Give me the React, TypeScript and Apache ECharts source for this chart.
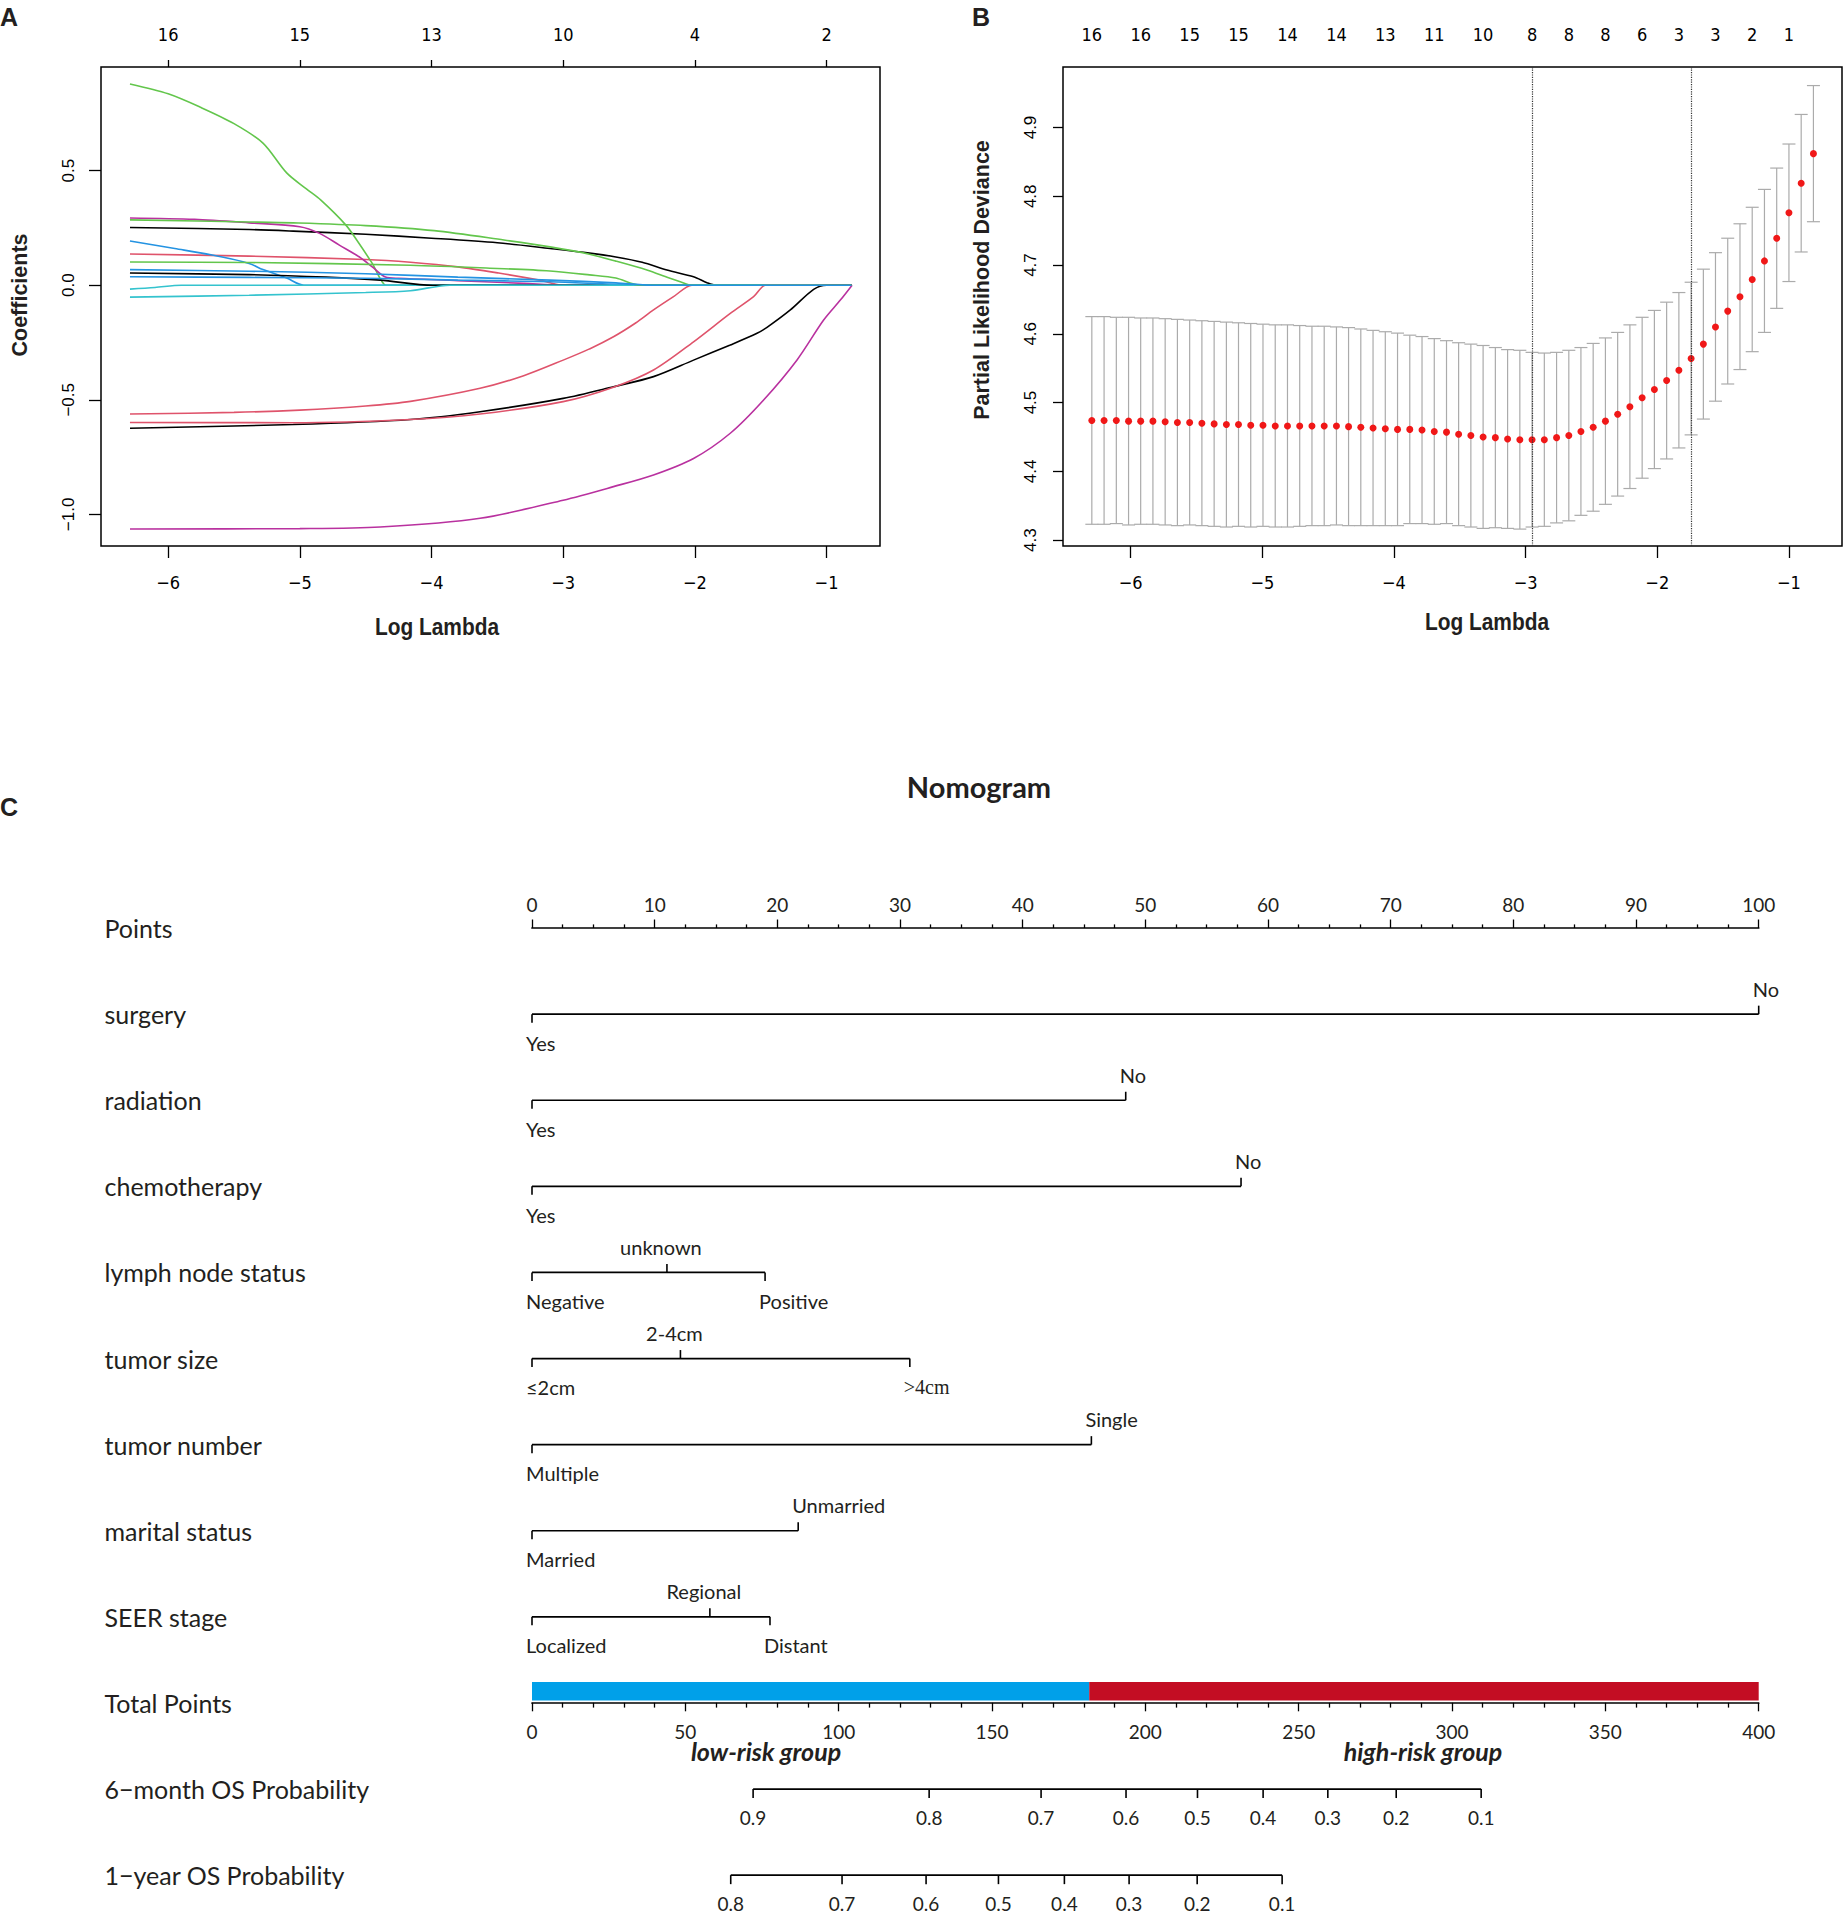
import React, { useEffect, useRef } from "react";
import * as echarts from "echarts";

// ---------------- Panel A : LASSO coefficient paths ----------------
const logLambdaTicks = [-6, -5, -4, -3, -2, -1];
const pathDfLabels = ["16", "15", "13", "10", "4", "2"];
const coefTicks = [-1, -0.5, 0, 0.5];

const pathBlack1 = [[-6.29,0.252],[-5.385,0.243],[-5.05,0.236],[-4.5,0.222],[-4.0,0.205],[-3.5,0.185],[-3.1,0.160],[-2.8,0.14],[-2.6,0.123],[-2.4,0.1],[-2.212,0.066],[-2.01,0.037],[-1.908,0.011],[-1.84,0],[-1.82,0],[-0.81,0]];
const pathRed1 = [[-6.29,0.136],[-5.385,0.127],[-4.5,0.112],[-4.16,0.1],[-3.8,0.08],[-3.49,0.053],[-3.18,0.022],[-3.0,0],[-2.98,0],[-0.81,0]];
const pathGreen1 = [[-6.29,0.878],[-6.0,0.835],[-5.75,0.775],[-5.5,0.705],[-5.28,0.62],[-5.1,0.49],[-4.95,0.42],[-4.84,0.371],[-4.65,0.262],[-4.55,0.182],[-4.45,0.095],[-4.346,0],[-4.326,0],[-0.81,0]];
const pathBlue1 = [[-6.29,0.193],[-5.95,0.160],[-5.59,0.123],[-5.385,0.095],[-5.28,0.068],[-5.1,0.031],[-4.97,0],[-4.95,0],[-0.81,0]];
const pathCyan1 = [[-6.29,-0.017],[-6.1,-0.01],[-5.9,0],[-5.88,0],[-0.81,0]];
const pathMagenta1 = [[-6.29,0.293],[-5.8,0.287],[-5.385,0.272],[-5.0,0.255],[-4.85,0.226],[-4.7,0.175],[-4.55,0.124],[-4.45,0.08],[-4.35,0.036],[-4.25,0.03],[-3.8,0.02],[-3.3,0.008],[-3.0,0],[-2.98,0],[-0.81,0]];
const pathBlack2 = [[-6.29,0.053],[-5.385,0.046],[-4.8,0.035],[-4.39,0.022],[-3.99,0],[-3.97,0],[-0.81,0]];
const pathRed2 = [[-6.29,-0.562],[-5.5,-0.555],[-5.0,-0.545],[-4.5,-0.527],[-4.16,-0.507],[-3.631,-0.45],[-3.3,-0.395],[-3.0,-0.327],[-2.8,-0.278],[-2.618,-0.225],[-2.45,-0.165],[-2.314,-0.108],[-2.162,-0.05],[-2.022,0],[-2.0,0],[-0.81,0]];
const pathGreen2 = [[-6.29,0.285],[-5.385,0.276],[-5.05,0.272],[-4.5,0.26],[-3.98,0.238],[-3.45,0.197],[-3.1,0.167],[-2.8,0.135],[-2.6,0.105],[-2.364,0.066],[-2.2,0.032],[-2.111,0.015],[-2.022,0],[-2.0,0],[-0.81,0]];
const pathBlue3 = [[-6.29,0.037],[-5.385,0.034],[-4.5,0.03],[-3.8,0.022],[-3.1,0.015],[-2.7,0.006],[-2.45,0],[-2.43,0],[-0.81,0]];
const pathCyan2 = [[-6.29,-0.052],[-5.385,-0.044],[-4.5,-0.032],[-4.16,-0.024],[-3.86,0],[-3.84,0],[-0.81,0]];
const pathMagenta2 = [[-6.29,-1.064],[-5.0,-1.062],[-4.39,-1.055],[-3.631,-1.017],[-3.0,-0.938],[-2.618,-0.879],[-2.314,-0.828],[-2.01,-0.756],[-1.731,-0.646],[-1.478,-0.501],[-1.224,-0.326],[-1.022,-0.152],[-0.895,-0.065],[-0.806,0]];
const pathBlack3 = [[-6.29,-0.624],[-5.05,-0.608],[-4.16,-0.586],[-3.631,-0.552],[-3.0,-0.494],[-2.618,-0.443],[-2.314,-0.399],[-2.01,-0.327],[-1.731,-0.261],[-1.528,-0.21],[-1.452,-0.184],[-1.275,-0.108],[-1.098,-0.018],[-1.0,0],[-0.98,0],[-0.81,0]];
const pathRed3 = [[-6.29,-0.599],[-5.05,-0.6],[-4.16,-0.586],[-3.631,-0.562],[-3.0,-0.508],[-2.618,-0.445],[-2.314,-0.37],[-2.01,-0.247],[-1.731,-0.123],[-1.554,-0.05],[-1.465,0],[-1.445,0],[-0.81,0]];
const pathGreen3 = [[-6.29,0.101],[-5.385,0.099],[-4.16,0.087],[-3.5,0.073],[-3.1,0.062],[-2.8,0.045],[-2.6,0.031],[-2.42,0],[-2.40,0],[-0.81,0]];
const pathBlue2 = [[-6.29,0.068],[-5.385,0.061],[-4.5,0.05],[-3.8,0.035],[-3.1,0.022],[-2.6,0.01],[-2.33,0],[-2.31,0],[-0.81,0]];

const BLACK = "#000000", RED = "#DF536B", GREEN = "#63C64C", BLUE = "#2493E2", CYAN = "#34C3CE", MAGENTA = "#B9319F";
const coefPaths = [
  { data: pathBlack1, color: BLACK }, { data: pathRed1, color: RED }, { data: pathGreen1, color: GREEN },
  { data: pathBlue1, color: BLUE }, { data: pathCyan1, color: CYAN }, { data: pathMagenta1, color: MAGENTA },
  { data: pathBlack2, color: BLACK }, { data: pathRed2, color: RED }, { data: pathGreen2, color: GREEN },
  { data: pathBlue3, color: BLUE }, { data: pathCyan2, color: CYAN }, { data: pathMagenta2, color: MAGENTA },
  { data: pathBlack3, color: BLACK }, { data: pathRed3, color: RED }, { data: pathGreen3, color: GREEN },
  { data: pathBlue2, color: BLUE },
];

// ---------------- Panel B : cross-validation curve ----------------
const cvLogLambda = [-6.295,-6.202,-6.109,-6.016,-5.924,-5.831,-5.738,-5.645,-5.552,-5.459,
  -5.366,-5.273,-5.181,-5.088,-4.995,-4.902,-4.809,-4.716,-4.623,-4.530,
  -4.437,-4.345,-4.252,-4.159,-4.066,-3.973,-3.880,-3.787,-3.694,-3.601,
  -3.509,-3.416,-3.323,-3.230,-3.137,-3.044,-2.951,-2.858,-2.765,-2.672,
  -2.580,-2.487,-2.394,-2.301,-2.208,-2.115,-2.022,-1.929,-1.836,-1.743,
  -1.650,-1.558,-1.465,-1.372,-1.279,-1.186,-1.093,-1.000,-0.907,-0.814];
const cvMean = [4.474,4.474,4.474,4.473,4.473,4.473,4.472,4.471,4.471,4.470,
  4.469,4.468,4.468,4.467,4.467,4.466,4.466,4.466,4.466,4.466,
  4.466,4.465,4.464,4.463,4.462,4.461,4.461,4.460,4.458,4.457,
  4.454,4.452,4.450,4.449,4.447,4.446,4.446,4.446,4.449,4.452,
  4.458,4.464,4.473,4.483,4.494,4.507,4.519,4.532,4.547,4.564,
  4.585,4.610,4.633,4.654,4.679,4.706,4.739,4.776,4.819,4.862];
const cvUpper = [4.625,4.625,4.624,4.624,4.623,4.623,4.622,4.621,4.620,4.619,
  4.618,4.617,4.616,4.615,4.614,4.613,4.613,4.612,4.611,4.611,
  4.610,4.609,4.607,4.605,4.603,4.601,4.598,4.596,4.593,4.590,
  4.587,4.585,4.583,4.580,4.577,4.576,4.573,4.572,4.573,4.576,
  4.580,4.586,4.594,4.602,4.613,4.624,4.634,4.646,4.660,4.675,
  4.694,4.718,4.739,4.760,4.784,4.810,4.841,4.876,4.919,4.961];
const cvLower = [4.323,4.323,4.324,4.322,4.323,4.323,4.322,4.321,4.322,4.321,
  4.320,4.319,4.320,4.319,4.320,4.319,4.319,4.320,4.321,4.321,
  4.322,4.321,4.321,4.321,4.321,4.321,4.324,4.324,4.323,4.324,
  4.321,4.319,4.317,4.318,4.317,4.316,4.319,4.320,4.325,4.328,
  4.336,4.342,4.352,4.364,4.375,4.390,4.404,4.418,4.434,4.453,
  4.476,4.502,4.527,4.548,4.574,4.602,4.637,4.676,4.719,4.763];
const cvTopIdx = [0,4,8,12,16,20,24,28,32,36,39,42,45,48,51,54,57];
const cvTopDf = ["16","16","15","15","14","14","13","11","10","8","8","8","6","3","3","2","1"];
const cvMinIdx = 36;
const cv1seIdx = 49;
const devianceTicks = [4.3, 4.4, 4.5, 4.6, 4.7, 4.8, 4.9];

// ---------------- Panel C : nomogram ----------------
const rowNames = ["Points","surgery","radiation","chemotherapy","lymph node status","tumor size","tumor number","marital status","SEER stage","Total Points","6\u2212month OS Probability","1\u2212year OS Probability"];
const surgeryLevels = ["Yes","No"];            const surgeryPoints = [0, 100];
const radiationLevels = ["Yes","No"];          const radiationPoints = [0, 48.4];
const chemoLevels = ["Yes","No"];              const chemoPoints = [0, 57.8];
const lymphLevels = ["Negative","unknown","Positive"]; const lymphPoints = [0, 11.0, 19.0];
const sizeLevels = ["\u22642cm","2-4cm",">4cm"]; const sizePoints = [0, 12.1, 30.8];
const numberLevels = ["Multiple","Single"];    const numberPoints = [0, 45.6];
const maritalLevels = ["Married","Unmarried"]; const maritalPoints = [0, 21.7];
const seerLevels = ["Localized","Regional","Distant"]; const seerPoints = [0, 14.5, 19.4];
const serifLevels = [">4cm"];

const sixMonthProb = [0.9, 0.8, 0.7, 0.6, 0.5, 0.4, 0.3, 0.2, 0.1];
const sixMonthTotal = [72.1, 129.5, 166.0, 193.7, 217.0, 238.4, 259.5, 281.8, 309.5];
const oneYearProb = [0.8, 0.7, 0.6, 0.5, 0.4, 0.3, 0.2, 0.1];
const oneYearTotal = [64.8, 101.1, 128.5, 152.1, 173.6, 194.7, 216.9, 244.6];

const riskFrom = [0, 181.7];
const riskTo = [181.7, 400];
const riskColors = ["#00A0E9", "#C30D23"];
const riskNames = ["low-risk group", "high-risk group"];

// ---------------- styling ----------------
const NARROW = '"Liberation Sans Narrow", "Arial Narrow", "DejaVu Sans Condensed", "Liberation Sans", sans-serif';
const SANS = '"Liberation Sans", Arial, sans-serif';
const NOMO = 'Lato, "Open Sans", sans-serif';
const TXT = "#231f20";

const minus = (s: string) => s.replace("-", "\u2212");
const nearestLabel = (v: number, at: number[], labels: string[]) => {
  let bi = 0, bd = Infinity;
  at.forEach((a, i) => { const d = Math.abs(a - v); if (d < bd) { bd = d; bi = i; } });
  return labels[bi];
};

function textEl(x: number, y: number, text: string, font: string, align: string, extra: any = {}) {
  return {
    type: "text", x, y, ...extra,
    style: { text, font, fill: TXT, align, verticalAlign: "middle", textAlign: align, textVerticalAlign: "middle" },
  };
}

function buildOption() {
  const cvTopAt = cvTopIdx.map((i) => cvLogLambda[i]);

  const variableRows = [
    [surgeryLevels, surgeryPoints], [radiationLevels, radiationPoints], [chemoLevels, chemoPoints],
    [lymphLevels, lymphPoints], [sizeLevels, sizePoints], [numberLevels, numberPoints],
    [maritalLevels, maritalPoints], [seerLevels, seerPoints],
  ] as any[];
  const rowLineData: number[][] = [];
  const levelData: number[][] = [];
  const levelText: string[] = [];
  const levelSide: number[] = [];
  const levelEnd: boolean[] = [];
  variableRows.forEach(([levels, pts], k) => {
    const row = k + 1;
    rowLineData.push([Math.min(...pts), row, Math.max(...pts)]);
    levels.forEach((lab: string, i: number) => {
      levelData.push([pts[i], row]);
      levelText.push(lab);
      levelSide.push(i % 2 === 0 ? -1 : 1);
      levelEnd.push(i === 0 || i === levels.length - 1);
    });
  });

  const probLineData = [
    [Math.min(...sixMonthTotal), 10, Math.max(...sixMonthTotal)],
    [Math.min(...oneYearTotal), 11, Math.max(...oneYearTotal)],
  ];
  const probData: number[][] = [];
  const probText: string[] = [];
  sixMonthTotal.forEach((t, i) => { probData.push([t, 10]); probText.push(sixMonthProb[i].toFixed(1)); });
  oneYearTotal.forEach((t, i) => { probData.push([t, 11]); probText.push(oneYearProb[i].toFixed(1)); });

  const hLine = (params: any, api: any) => {
    const row = api.value(1);
    const a = api.coord([api.value(0), row]);
    const b = api.coord([api.value(2), row]);
    return { type: "line", shape: { x1: a[0], y1: a[1], x2: b[0], y2: b[1] }, style: { stroke: "#000", lineWidth: 1.7 } };
  };

  const axisLineOff = { show: false, onZero: false };
  const blackTick = { color: "#000", width: 1.3 };

  return {
    animation: false,
    backgroundColor: "#ffffff",
    grid: [
      { left: 101, top: 67, width: 779, height: 479, show: true, borderColor: "#000", borderWidth: 1.5, backgroundColor: "transparent", outerBoundsMode: "none" },
      { left: 1063, top: 67, width: 779, height: 479, show: true, borderColor: "#000", borderWidth: 1.5, backgroundColor: "transparent", outerBoundsMode: "none" },
      { left: 532, top: 885, width: 1226.7, height: 1033.2, outerBoundsMode: "none" },
      { left: 532, top: 880, width: 1226.7, height: 48, outerBoundsMode: "none" },
      { left: 532, top: 1679.6, width: 1226.7, height: 23.2, outerBoundsMode: "none" },
    ],
    xAxis: [
      { gridIndex: 0, type: "value", position: "bottom", min: -6.51, max: -0.594, axisLine: axisLineOff, splitLine: { show: false },
        axisTick: { show: true, customValues: logLambdaTicks, length: 12, lineStyle: blackTick },
        axisLabel: { customValues: logLambdaTicks, formatter: (v: number) => minus(String(v)), margin: 27, fontSize: 18, fontFamily: NARROW, color: "#000" } },
      { gridIndex: 0, type: "value", position: "top", min: -6.51, max: -0.594, axisLine: axisLineOff, splitLine: { show: false },
        axisTick: { show: true, customValues: logLambdaTicks, length: 7, lineStyle: blackTick },
        axisLabel: { customValues: logLambdaTicks, formatter: (v: number) => nearestLabel(v, logLambdaTicks, pathDfLabels), margin: 24, fontSize: 18, fontFamily: NARROW, color: "#000" } },
      { gridIndex: 1, type: "value", position: "bottom", min: -6.514, max: -0.597, axisLine: axisLineOff, splitLine: { show: false },
        axisTick: { show: true, customValues: logLambdaTicks, length: 12, lineStyle: blackTick },
        axisLabel: { customValues: logLambdaTicks, formatter: (v: number) => minus(String(v)), margin: 27, fontSize: 18, fontFamily: NARROW, color: "#000" } },
      { gridIndex: 1, type: "value", position: "top", min: -6.514, max: -0.597, axisLine: axisLineOff, splitLine: { show: false },
        axisTick: { show: false },
        axisLabel: { customValues: cvTopAt, formatter: (v: number) => nearestLabel(v, cvTopAt, cvTopDf), margin: 24, fontSize: 18, fontFamily: NARROW, color: "#000" } },
      { gridIndex: 2, type: "value", min: 0, max: 100, show: false },
      { gridIndex: 2, type: "value", min: 0, max: 400, show: false },
      { gridIndex: 3, type: "value", position: "bottom", min: 0, max: 100, interval: 10,
        axisLine: { show: true, onZero: false, lineStyle: { color: "#000", width: 1.7 } },
        axisTick: { show: true, inside: true, length: 8.5, lineStyle: blackTick },
        minorTick: { show: true, splitNumber: 4, length: 3.6, lineStyle: blackTick },
        splitLine: { show: false }, minorSplitLine: { show: false },
        axisLabel: { inside: true, margin: 14, fontSize: 19, fontFamily: NOMO, color: TXT } },
      { gridIndex: 4, type: "value", position: "bottom", min: 0, max: 400, interval: 50,
        axisLine: { show: true, onZero: false, lineStyle: { color: "#000", width: 1.7 } },
        axisTick: { show: true, length: 8.5, lineStyle: blackTick },
        minorTick: { show: true, splitNumber: 5, length: 4.8, lineStyle: blackTick },
        splitLine: { show: false }, minorSplitLine: { show: false },
        axisLabel: { margin: 19, fontSize: 19, fontFamily: NOMO, color: TXT } },
    ],
    yAxis: [
      { gridIndex: 0, type: "value", min: -1.138, max: 0.952, axisLine: axisLineOff, splitLine: { show: false },
        axisTick: { show: true, customValues: coefTicks, length: 12, lineStyle: blackTick },
        axisLabel: { customValues: coefTicks, rotate: 90, margin: 24, formatter: (v: number) => minus(v.toFixed(1)), fontSize: 17, fontFamily: SANS, color: "#000" } },
      { gridIndex: 1, type: "value", min: 4.2914, max: 4.988, axisLine: axisLineOff, splitLine: { show: false },
        axisTick: { show: true, customValues: devianceTicks, length: 10, lineStyle: blackTick },
        axisLabel: { customValues: devianceTicks, rotate: 90, margin: 24, formatter: (v: number) => v.toFixed(1), fontSize: 17, fontFamily: SANS, color: "#000" } },
      { gridIndex: 2, type: "category", data: rowNames, inverse: true, axisLine: { show: false }, axisTick: { show: false }, splitLine: { show: false },
        axisLabel: { interval: 0, align: "left", margin: 427.5, fontSize: 25, fontFamily: NOMO, color: TXT } },
      { gridIndex: 3, type: "value", show: false },
      { gridIndex: 4, type: "category", data: [""], show: false },
    ],
    series: [
      ...coefPaths.map((p) => ({
        type: "line", xAxisIndex: 0, yAxisIndex: 0, data: p.data, showSymbol: false, symbol: "none",
        smooth: 0.3, lineStyle: { color: p.color, width: 1.6 }, silent: true,
      })),
      {
        type: "custom", xAxisIndex: 2, yAxisIndex: 1, silent: true, clip: false,
        data: cvLogLambda.map((x, i) => [x, cvLower[i], cvUpper[i]]),
        encode: { x: 0, y: [1, 2] },
        renderItem: (params: any, api: any) => {
          const x = api.value(0);
          const lo = api.coord([x, api.value(1)]);
          const hi = api.coord([x, api.value(2)]);
          const w = 6.5;
          const st = { stroke: "#ABABAB", lineWidth: 1.2 };
          return { type: "group", children: [
            { type: "line", shape: { x1: lo[0], y1: lo[1], x2: hi[0], y2: hi[1] }, style: st },
            { type: "line", shape: { x1: lo[0] - w, y1: lo[1], x2: lo[0] + w, y2: lo[1] }, style: st },
            { type: "line", shape: { x1: hi[0] - w, y1: hi[1], x2: hi[0] + w, y2: hi[1] }, style: st },
          ] };
        },
      },
      {
        type: "scatter", xAxisIndex: 2, yAxisIndex: 1, silent: true, symbolSize: 7,
        itemStyle: { color: "#F01818", opacity: 1 },
        data: cvLogLambda.map((x, i) => [x, cvMean[i]]),
        markLine: {
          silent: true, symbol: ["none", "none"], label: { show: false },
          lineStyle: { type: "dotted", color: "#333", width: 1.2 },
          data: [{ xAxis: cvLogLambda[cvMinIdx] }, { xAxis: cvLogLambda[cv1seIdx] }],
        },
      },
      {
        type: "custom", xAxisIndex: 4, yAxisIndex: 2, silent: true, clip: false,
        data: rowLineData, encode: { x: [0, 2], y: 1 }, renderItem: hLine,
      },
      {
        type: "custom", xAxisIndex: 4, yAxisIndex: 2, silent: true, clip: false,
        data: levelData, encode: { x: 0, y: 1 },
        renderItem: (params: any, api: any) => {
          const i = params.dataIndex;
          const p = api.coord([api.value(0), api.value(1)]);
          const side = levelSide[i];
          const tickEnd = side > 0 ? p[1] - 8.5 : p[1] + 8.5;
          const ty = side > 0 ? p[1] - 25.5 : p[1] + 28.5;
          const al = levelEnd[i] ? "left" : "center";
          const fam = serifLevels.indexOf(levelText[i]) >= 0 ? '"Liberation Serif", "Times New Roman", serif' : NOMO;
          return { type: "group", children: [
            { type: "line", shape: { x1: p[0], y1: p[1], x2: p[0], y2: tickEnd }, style: { stroke: "#000", lineWidth: 1.6 } },
            textEl(p[0] - 6, ty, levelText[i], `20px ${fam}`, al),
          ] };
        },
      },
      {
        type: "custom", xAxisIndex: 5, yAxisIndex: 2, silent: true, clip: false,
        data: probLineData, encode: { x: [0, 2], y: 1 }, renderItem: hLine,
      },
      {
        type: "custom", xAxisIndex: 5, yAxisIndex: 2, silent: true, clip: false,
        data: probData, encode: { x: 0, y: 1 },
        renderItem: (params: any, api: any) => {
          const i = params.dataIndex;
          const p = api.coord([api.value(0), api.value(1)]);
          return { type: "group", children: [
            { type: "line", shape: { x1: p[0], y1: p[1], x2: p[0], y2: p[1] + 9 }, style: { stroke: "#000", lineWidth: 1.6 } },
            textEl(p[0], p[1] + 28, probText[i], `19px ${NOMO}`, "center"),
          ] };
        },
      },
      {
        type: "custom", xAxisIndex: 7, yAxisIndex: 4, silent: true, clip: false,
        data: riskFrom.map((f, i) => [f, 0, riskTo[i]]), encode: { x: [0, 2], y: 1 },
        renderItem: (params: any, api: any) => {
          const a = api.coord([api.value(0), 0]);
          const b = api.coord([api.value(2), 0]);
          return { type: "rect", shape: { x: a[0], y: a[1] - 9.3, width: b[0] - a[0], height: 18.6 },
            style: { fill: riskColors[params.dataIndex] } };
        },
      },
    ],
    graphic: [
      textEl(0, 17, "A", `bold 25px ${SANS}`, "left"),
      textEl(972, 17, "B", `bold 25px ${SANS}`, "left"),
      textEl(0, 807, "C", `bold 25px ${SANS}`, "left"),
      textEl(20, 295, "Coefficients", `bold 21.5px ${SANS}`, "center", { rotation: Math.PI / 2 }),
      textEl(982, 280, "Partial Likelihood Deviance", `bold 21.5px ${SANS}`, "center", { rotation: Math.PI / 2 }),
      textEl(437, 627, "Log Lambda", `bold 24px ${SANS}`, "center", { scaleX: 0.87 }),
      textEl(1487, 622, "Log Lambda", `bold 24px ${SANS}`, "center", { scaleX: 0.87 }),
      textEl(979, 786, "Nomogram", `bold 29px ${NOMO}`, "center"),
      textEl(766, 1751, riskNames[0], `italic bold 25px ${NOMO}`, "center"),
      textEl(1423, 1751, riskNames[1], `italic bold 25px ${NOMO}`, "center"),
    ],
  };
}

export default function App() {
  const ref = useRef<HTMLDivElement>(null);
  useEffect(() => {
    document.body.style.margin = "0";
    const chart = echarts.init(ref.current as HTMLDivElement, null, { renderer: "svg", width: 1843, height: 1911 });
    chart.setOption(buildOption() as any);
    return () => chart.dispose();
  }, []);
  return (
    <div
      ref={ref}
      style={{ position: "absolute", left: 0, top: 0, width: 1843, height: 1911, background: "#fff", overflow: "hidden" }}
    />
  );
}
